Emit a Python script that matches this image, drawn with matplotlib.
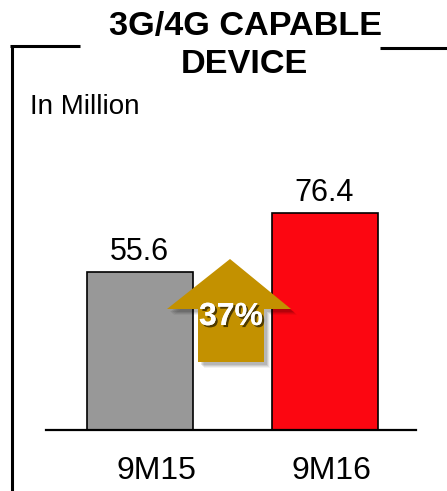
import matplotlib
matplotlib.use("Agg")
import matplotlib.pyplot as plt
from matplotlib.patches import Polygon
import matplotlib.patheffects as pe

categories = ["9M15", "9M16"]
values = [55.6, 76.4]
bar_colors = ["#989898", "#FC0611"]
growth_label = "37%"
title_lines = ["3G/4G CAPABLE", "DEVICE"]
unit_label = "In Million"

W, H = 447, 491
fig = plt.figure(figsize=(W / 100, H / 100), dpi=100)
plt.rcParams["font.family"] = ["Liberation Sans", "DejaVu Sans"]

# bar chart area
ax = fig.add_axes([46 / W, 61 / H, 370 / W, 250 / H])
ax.bar(range(len(values)), values, width=0.57, color=bar_colors,
       edgecolor="black", linewidth=1.2, zorder=2)
ax.set_xlim(-0.508, 1.492)
ax.set_ylim(0, 250 / 2.84)
for s in ["top", "right", "left"]:
    ax.spines[s].set_visible(False)
ax.spines["bottom"].set_linewidth(1.6)
ax.set_xticks([])
ax.set_yticks([])
ax.patch.set_alpha(0)

# category labels sit slightly right of the bar centres
label_shift_pt = [12.2, 5.0]
for i, v in enumerate(values):
    ax.annotate(f"{v:.1f}", xy=(i, v), xytext=(-0.7, 9), textcoords="offset points",
                ha="center", va="baseline", fontsize=22, color="black")
    ax.annotate(categories[i], xy=(i, 0), xytext=(label_shift_pt[i], -35.3),
                textcoords="offset points",
                ha="center", va="baseline", fontsize=23, color="black")

# overlay in pixel coordinates for frame, title and growth arrow
ov = fig.add_axes([0, 0, 1, 1], zorder=5)
ov.set_xlim(0, W)
ov.set_ylim(H, 0)
ov.axis("off")

lw = 2.2
ov.plot([11.5, 11.5], [45, H], color="black", lw=lw, solid_capstyle="butt")
ov.plot([10, 80], [46, 46], color="black", lw=lw, solid_capstyle="butt")
ov.plot([380, W], [48, 48], color="black", lw=lw, solid_capstyle="butt")

ov.text(245.5, 35, title_lines[0], ha="center", va="baseline",
        fontsize=24.7, fontweight="bold")
ov.text(244, 73, title_lines[1], ha="center", va="baseline",
        fontsize=24.7, fontweight="bold")
ov.text(30, 114, unit_label, ha="left", va="baseline", fontsize=20)

arrow_pts = [(230, 259), (291, 309), (264, 309), (264, 362),
             (198, 362), (198, 309), (167, 309)]
# soft drop shadow
for k, a in [(6, 0.05), (5, 0.07), (4, 0.09), (3, 0.1)]:
    sh = [(x + k, y + k) for x, y in arrow_pts]
    ov.add_patch(Polygon(sh, closed=True, facecolor="black", edgecolor="none",
                         alpha=a))
ov.add_patch(Polygon(arrow_pts, closed=True, facecolor="#C39100",
                     edgecolor="none"))
ov.text(231, 325, growth_label, ha="center", va="baseline", fontsize=23,
        fontweight="bold", color="white",
        path_effects=[pe.withSimplePatchShadow(offset=(1.5, -1.5),
                                               shadow_rgbFace="black", alpha=0.6),
                      pe.Normal()])

fig.savefig("out.png", dpi=100)
